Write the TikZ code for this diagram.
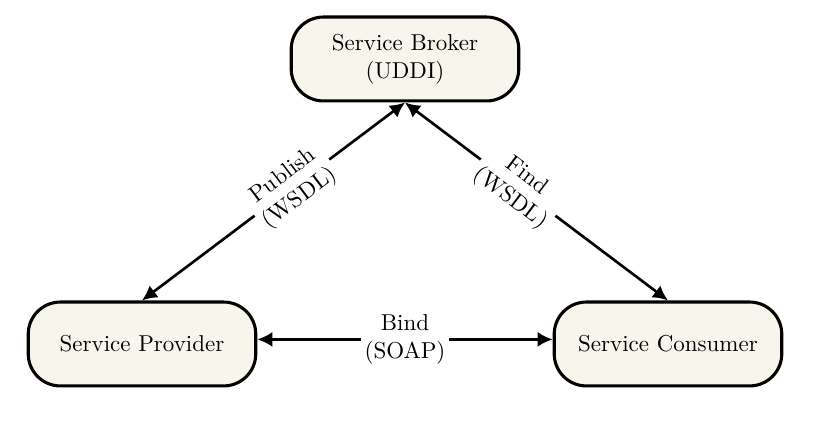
\documentclass[tikz,border=0pt]{standalone}
\usetikzlibrary{arrows.meta}
\definecolor{boxfill}{RGB}{248,246,236}
\begin{document}
\begin{tikzpicture}[
  x=0.435pt, y=-0.435pt,
  box/.style={draw, line width=1.35pt, rounded corners=14pt, fill=boxfill, align=center, minimum width=99pt, minimum height=36.5pt},
  arrow/.style={{Latex[length=6.5pt,width=6.5pt]}-{Latex[length=6.5pt,width=6.5pt]}, line width=1.15pt},
  lbl/.style={fill=white, align=center, inner sep=1.5pt}
]
\useasboundingbox (0,0) rectangle (820,440);
\node[box] (broker) at (405,59) {Service Broker\\(UDDI)};
\node[box] (provider) at (142,344) {Service Provider};
\node[box] (consumer) at (668,344) {Service Consumer};

\draw[arrow] (broker.south) -- node[lbl, sloped, pos=0.43] {Publish\\(WSDL)} (provider.north);
\draw[arrow] (broker.south) -- node[lbl, sloped, pos=0.43] {Find\\(WSDL)} (consumer.north);
\draw[arrow] ([yshift=2pt]provider.east) -- node[lbl] {Bind\\(SOAP)} ([yshift=2pt]consumer.west);
\end{tikzpicture}
\end{document}
